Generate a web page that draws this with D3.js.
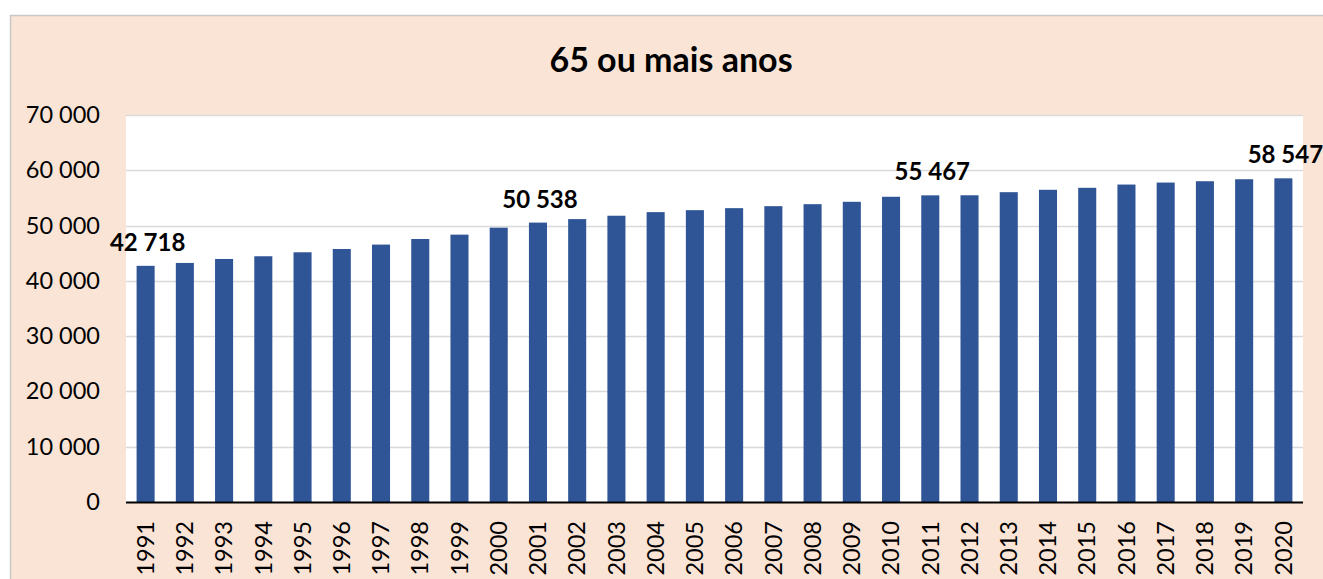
<!DOCTYPE html>
<html><head><meta charset="utf-8">
<script src="https://cdn.jsdelivr.net/npm/d3@7"></script>
<style>html,body{margin:0;padding:0;background:#fff;}svg{display:block;font-family:Lato,"Open Sans",sans-serif;}</style>
</head><body>
<script>
const title = "65 ou mais anos";
const years = ["1991","1992","1993","1994","1995","1996","1997","1998","1999","2000","2001","2002","2003","2004","2005","2006","2007","2008","2009","2010","2011","2012","2013","2014","2015","2016","2017","2018","2019","2020"];
const values = [42718,43240,43960,44450,45170,45760,46560,47570,48360,49620,50538,51170,51780,52430,52790,53150,53510,53870,54300,55210,55467,55480,56040,56470,56830,57420,57780,58020,58380,58547];
const labeledYears = ["1991","2001","2011","2020"];
const yTicks = [0,10000,20000,30000,40000,50000,60000,70000];

const W = 1323, H = 579;
const plot = {left:126, right:1303, top:115, bottom:502};
const svg = d3.select("body").append("svg").attr("width",W).attr("height",H);

svg.append("rect").attr("x",10.5).attr("y",15.5).attr("width",W+20).attr("height",H+20)
  .attr("fill","#FAE4D6").attr("stroke","#C8C8C8").attr("stroke-width",1.5);
svg.append("rect").attr("x",plot.left).attr("y",plot.top)
  .attr("width",plot.right-plot.left).attr("height",plot.bottom-plot.top).attr("fill","#fff");

const x = d3.scaleBand().domain(years).range([plot.left,plot.right]).paddingInner(0.54).paddingOuter(0.27);
const y = d3.scaleLinear().domain([0,70000]).range([plot.bottom,plot.top]);
const fmt = v => d3.format(",")(v).replace(/,/g," ");

svg.append("g").selectAll("line").data(yTicks.filter(d=>d>0)).join("line")
  .attr("x1",plot.left).attr("x2",plot.right)
  .attr("y1",d=>Math.round(y(d))+0.5).attr("y2",d=>Math.round(y(d))+0.5)
  .attr("stroke","#D9D9D9").attr("stroke-width",1.5);

const yAxis = svg.append("g").attr("transform",`translate(${plot.left},0)`)
  .call(d3.axisLeft(y).tickValues(yTicks).tickFormat(fmt).tickSize(0).tickPadding(26));
yAxis.select(".domain").remove();
yAxis.selectAll("text").attr("font-size",23.5).attr("fill","#000").style("font-family","Lato");

svg.append("g").selectAll("rect").data(years).join("rect")
  .attr("x",d=>x(d)).attr("width",x.bandwidth())
  .attr("y",(d,i)=>y(values[i])).attr("height",(d,i)=>y(0)-y(values[i]))
  .attr("fill","#2F5597");

svg.append("line").attr("x1",plot.left).attr("x2",plot.right)
  .attr("y1",plot.bottom+0.5).attr("y2",plot.bottom+0.5).attr("stroke","#000").attr("stroke-width",2);

const xAxis = svg.append("g").attr("transform",`translate(0,${plot.bottom})`)
  .call(d3.axisBottom(x).tickSize(0).tickPadding(0));
xAxis.select(".domain").remove();
xAxis.selectAll("text").attr("font-size",23.5).attr("fill","#000").style("font-family","Lato")
  .attr("transform","rotate(-90)").attr("text-anchor","end").attr("x",-19).attr("y",0).attr("dy","0.35em");

svg.append("g").selectAll("text").data(labeledYears).join("text")
  .attr("x",d=>x(d)+x.bandwidth()/2+2)
  .attr("y",d=>y(values[years.indexOf(d)])-15)
  .attr("text-anchor","middle").attr("font-size",24).attr("font-weight","bold").attr("fill","#000")
  .text(d=>fmt(values[years.indexOf(d)]));

svg.append("text").attr("x",671).attr("y",72).attr("text-anchor","middle")
  .attr("font-size",34).attr("font-weight","bold").attr("fill","#000").text(title);
</script>
</body></html>
